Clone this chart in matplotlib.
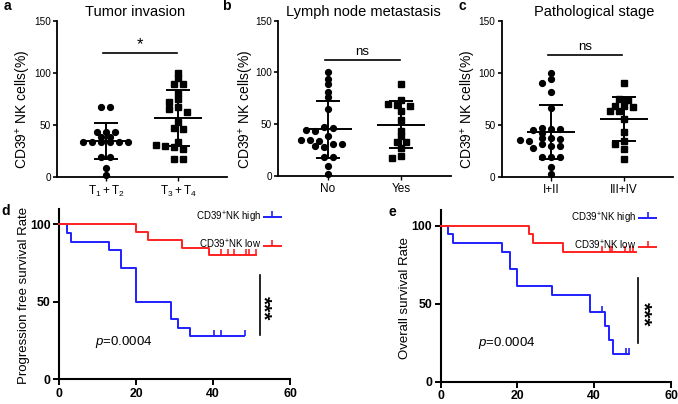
import numpy as np
import matplotlib
matplotlib.use("Agg")
import matplotlib.pyplot as plt
from matplotlib.lines import Line2D

plt.rcParams['font.family'] = ['Liberation Sans', 'DejaVu Sans']
plt.rcParams['mathtext.fontset'] = 'custom'
plt.rcParams['mathtext.rm'] = 'Liberation Sans'
plt.rcParams['mathtext.it'] = 'Liberation Sans:italic'
plt.rcParams['mathtext.bf'] = 'Liberation Sans:bold'

# ---------------- data: scatter panels ----------------
a_title = "Tumor invasion"
a_cats = [r"$\mathregular{T_1+T_2}$", r"$\mathregular{T_3+T_4}$"]
a_g1 = [67, 67, 43, 43, 43, 38, 38, 33, 33, 33, 33, 33, 33, 19, 19, 8, 2]
a_g2 = [100, 94.6, 89, 89, 80, 75, 72, 67, 64.8, 62.5, 53, 46.5, 45.5,
        33.7, 30.5, 29.5, 28.5, 27, 16.7, 16.7]
a_sig = "*"

b_title = "Lymph node metastasis"
b_cats = ["No", "Yes"]
b_g1 = [100, 94, 89, 81, 76, 65, 47, 46, 44, 43, 38, 35, 35, 34, 31, 31,
        29, 28, 18, 18, 9, 2]
b_g2 = [89, 73, 69, 68, 67, 63, 54, 43, 38, 33, 33, 27, 19, 17]
b_sig = "ns"

c_title = "Pathological stage"
c_cats = ["I+II", "III+IV"]
c_g1 = [100, 94, 90, 81, 66, 47, 46, 46, 45, 42, 37, 37, 36, 35, 34, 31,
        30, 30, 28, 19, 19, 19, 9, 3]
c_g2 = [90, 75, 74, 68, 68, 67, 63, 63, 55, 43, 34, 31, 27, 17]
c_sig = "ns"

# ---------------- data: survival panels ----------------
d_high_t = [0, 2, 3, 13, 16, 20, 29, 31, 34, 48]
d_high_s = [100, 94.4, 88.9, 83.3, 72.2, 50.0, 38.9, 33.3, 27.8, 27.8]
d_high_cens = [40.3, 42.2, 48.3]
d_low_t = [0, 20, 23, 32, 39, 51.2]
d_low_s = [100, 95, 90, 85, 80, 80]
d_low_cens = [42.2, 44, 45.5, 48.5, 49.4, 51.1]

e_high_t = [0, 2, 3.3, 16, 18, 20, 29, 39, 42.8, 43.9, 44.9, 49]
e_high_s = [100, 94.4, 88.9, 83.3, 72.2, 61.1, 55.6, 44.4, 35.5, 26.7, 17.8, 17.8]
e_high_cens = [41.9, 48.3, 49]
e_low_t = [0, 23.1, 24.1, 31.8, 50.8]
e_low_s = [100, 94.4, 88.9, 83.3, 83.3]
e_low_cens = [41.9, 44.0, 44.7, 47.9, 49.2, 50.1]

legend_labels = [r"$\mathregular{CD39^{+}}$NK high", r"$\mathregular{CD39^{+}}$NK low"]
pval_text = r"$\it{p}$=0.0004"

W, H = 678, 404
fig = plt.figure(figsize=(W / 100, H / 100), dpi=100)


def px_axes(left, top, right, bottom):
    return fig.add_axes([left / W, 1 - bottom / H, (right - left) / W, (bottom - top) / H])


def swarm_offsets(values, px_per_x, px_per_y, step_px=9.0, dy_px=5.0, tol=1.5):
    """Column-based swarm: rows of (near) equal values are laid out symmetrically,
    everything else goes to the nearest free column."""
    vals = np.asarray(values, dtype=float)
    order = np.argsort(-vals, kind="stable")
    rows = []
    for idx in order:
        if rows and abs(vals[rows[-1][0]] - vals[idx]) <= tol:
            rows[-1].append(idx)
        else:
            rows.append([idx])
    offs = np.zeros(len(vals))
    placed = []
    cands = [0.0]
    for j in range(1, 8):
        cands += [-j * step_px, j * step_px]
    for row in rows:
        k = len(row)
        base = [(i - (k - 1) / 2) * step_px for i in range(k)]
        chosen = base
        for c in cands:
            xs = [b + c for b in base]
            ok = True
            for xi, idx in zip(xs, row):
                yi = vals[idx] * px_per_y
                for (px, py) in placed:
                    if abs(px - xi) < 0.8 * step_px and abs(py - yi) < dy_px:
                        ok = False
                        break
                if not ok:
                    break
            if ok:
                chosen = xs
                break
        for xi, idx in zip(chosen, row):
            offs[idx] = xi / px_per_x
            placed.append((xi, vals[idx] * px_per_y))
    return offs


def scatter_panel(box, title, title_x, cats, g1, g2, sig, sig_y, sig_fs, label_x):
    left, top, right, bottom = box
    ax = px_axes(left, top, right, bottom)
    xlo, xhi = -0.68, 1.68
    ax.set_xlim(xlo, xhi)
    ax.set_ylim(0, 150)
    px_per_x = (right - left) / (xhi - xlo)
    px_per_y = (bottom - top) / 150.0
    for i, (g, mk) in enumerate([(g1, 'o'), (g2, 's')]):
        offs = swarm_offsets(g, px_per_x, px_per_y)
        ax.plot(i + offs, g, linestyle='none', marker=mk, ms=4.2, color='black',
                clip_on=False, zorder=3)
        m = np.mean(g)
        sd = np.std(g, ddof=1)
        ax.plot([i - 0.33, i + 0.33], [m, m], color='black', lw=1.4, zorder=4,
                solid_capstyle='butt')
        ax.plot([i, i], [m - sd, m + sd], color='black', lw=1.4, zorder=4)
        for yy in (m - sd, m + sd):
            ax.plot([i - 0.165, i + 0.165], [yy, yy], color='black', lw=1.4, zorder=4,
                    solid_capstyle='butt')
    ax.plot([-0.04, 0.98], [sig_y, sig_y], color='black', lw=1.2)
    ax.text(0.47, sig_y + 1.5, sig, ha='center', va='bottom', fontsize=sig_fs)
    for s in ['top', 'right']:
        ax.spines[s].set_visible(False)
    for s in ['left', 'bottom']:
        ax.spines[s].set_linewidth(1.3)
    ax.set_yticks([0, 50, 100, 150])
    ax.set_xticks([0, 1])
    ax.set_xticklabels(cats)
    ax.tick_params(axis='y', direction='out', length=3, width=1.2, labelsize=7.2, pad=1.5)
    ax.tick_params(axis='x', direction='out', length=3, width=1.0, labelsize=8.5, pad=2)
    ax.set_ylabel(r"$\mathregular{CD39^{+}}$ NK cells(%)", fontsize=10)
    ax.yaxis.set_label_coords(label_x, 0.43)
    fig.text(title_x / W, 1 - 12 / H, title, ha='center', va='center', fontsize=10.5)
    return ax


scatter_panel((57, 20.7, 227, 176.7), a_title, 135, a_cats, a_g1, a_g2, a_sig, 118.6, 12, -0.14)
scatter_panel((278.3, 20.7, 451, 175.7), b_title, 363, b_cats, b_g1, b_g2, b_sig, 112, 9.5, -0.127)
scatter_panel((501.7, 20.7, 673, 176.7), c_title, 594, c_cats, c_g1, c_g2, c_sig, 117, 9.5, -0.14)


def km_panel(box, high_t, high_s, high_c, low_t, low_s, low_c, ylabel, label_x, leg_x,
             sig_x, sig_y0, sig_y1, star_x, star_y, p_x, p_y):
    left, top, right, bottom = box
    ax = px_axes(left, top, right, bottom)
    ax.set_xlim(0, 60)
    ax.set_ylim(0, 110)
    blue, red = '#1f1fff', '#ff2020'
    for t, s, c, col in [(high_t, high_s, high_c, blue), (low_t, low_s, low_c, red)]:
        ax.step(t, s, where='post', color=col, lw=1.4, clip_on=False, zorder=3)
        cy = [s[np.searchsorted(t, ci, side='right') - 1] for ci in c]
        ax.plot(c, cy, linestyle='none', marker=2, ms=4, mew=1.2, color=col,
                clip_on=False, zorder=3)
    ax.plot([sig_x, sig_x], [sig_y0, sig_y1], color='black', lw=1.2)
    ax.text(star_x, star_y, '***', rotation=270, ha='center', va='center',
            fontsize=15, fontweight='bold')
    ax.text(p_x, p_y, pval_text, ha='left', va='center', fontsize=9.5)
    handles = [Line2D([], [], color=blue, lw=1.4, marker=2, ms=4, mew=1.2),
               Line2D([], [], color=red, lw=1.4, marker=2, ms=4, mew=1.2)]
    ax.legend(handles, legend_labels, loc='upper right', bbox_to_anchor=(leg_x, 1.03),
              frameon=False, fontsize=7, markerfirst=False, numpoints=1,
              handlelength=1.7, handletextpad=0.3, labelspacing=1.35,
              borderaxespad=0.2)
    for s in ['top', 'right']:
        ax.spines[s].set_visible(False)
    for s in ['left', 'bottom']:
        ax.spines[s].set_linewidth(1.5)
    ax.set_xticks([0, 20, 40, 60])
    ax.set_yticks([0, 50, 100])
    ax.tick_params(direction='out', length=4, width=1.4, labelsize=8.8, pad=2)
    for lab in ax.get_xticklabels() + ax.get_yticklabels():
        lab.set_fontweight('bold')
    ax.set_ylabel(ylabel, fontsize=9.5)
    ax.yaxis.set_label_coords(label_x, 0.49)
    return ax


km_panel((59, 209, 290, 379.3), d_high_t, d_high_s, d_high_cens, d_low_t, d_low_s,
         d_low_cens, "Progression free survival Rate", -0.125, 0.985,
         52.3, 28.7, 67.5, 53.0, 46, 9.4, 24)
km_panel((440.7, 210, 671, 381.7), e_high_t, e_high_s, e_high_cens, e_low_t, e_low_s,
         e_low_cens, "Overall survival Rate", -0.13, 0.96,
         51.5, 24.6, 66.3, 52.6, 43, 9.7, 24.6)

for letter, x, y in [('a', 7.5, 6), ('b', 226, 6), ('c', 462, 6), ('d', 6, 211), ('e', 392, 212)]:
    fig.text(x / W, 1 - y / H, letter, ha='center', va='center', fontsize=10, fontweight='bold')

fig.savefig("out.png", dpi=100)
